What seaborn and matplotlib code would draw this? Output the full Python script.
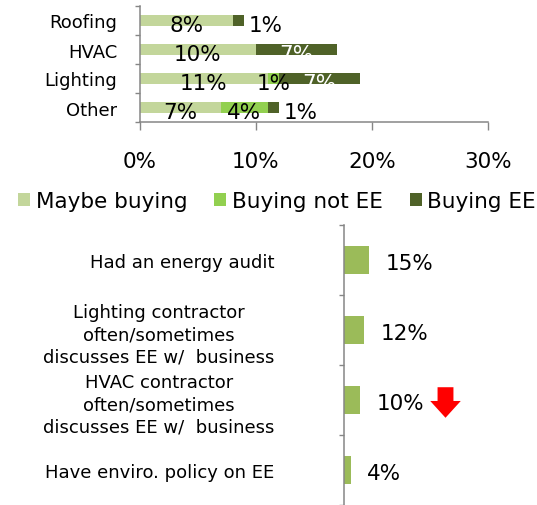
import matplotlib
matplotlib.use("Agg")
import matplotlib.pyplot as plt
import seaborn as sns
import pandas as pd
from matplotlib.patches import Patch
from matplotlib.path import Path
from matplotlib.transforms import offset_copy
from matplotlib.ticker import FixedLocator, PercentFormatter

# top chart: purchase plans by end use (% of businesses)
end_uses = ["Roofing", "HVAC", "Lighting", "Other"]
maybe_buying = [8, 10, 11, 7]
buying_not_ee = [0, 0, 1, 4]
buying_ee = [1, 7, 7, 1]
series_names = ["Maybe buying", "Buying not EE", "Buying EE"]

# bottom chart: EE related behaviours
drivers = ["Had an energy audit",
           "Lighting contractor\noften/sometimes\ndiscusses EE w/  business",
           "HVAC contractor\noften/sometimes\ndiscusses EE w/  business",
           "Have enviro. policy on EE"]
driver_pct = [15, 12, 10, 4]
declined = [False, False, True, False]

LIGHT = "#C3D69B"
MID = "#92D050"
DARK = "#4F6228"
BAR = "#9BBB59"
AXIS = "#868686"

sns.set_style("white")
plt.rcParams["font.family"] = ["DejaVu Sans"]
plt.rcParams["text.color"] = "black"
plt.rcParams["axes.labelcolor"] = "black"
plt.rcParams["xtick.labelcolor"] = "black"
plt.rcParams["ytick.labelcolor"] = "black"

fig = plt.figure(figsize=(5.37, 5.06), dpi=100)
ax1 = fig.add_axes([140 / 537, 1 - 123 / 506, 348 / 537, 116 / 506])
ax2 = fig.add_axes([344 / 537, 0.0, 193 / 537, 1 - 226 / 506])

df = pd.DataFrame({"use": end_uses, "maybe": maybe_buying,
                   "not_ee": buying_not_ee, "ee": buying_ee})
df["c1"] = df["maybe"]
df["c2"] = df["c1"] + df["not_ee"]
df["c3"] = df["c2"] + df["ee"]

# stacked bars: draw cumulative totals from the largest down
for col, color in [("c3", DARK), ("c2", MID), ("c1", LIGHT)]:
    sns.barplot(data=df, x=col, y="use", color=color, width=0.4, saturation=1,
                linewidth=0, errorbar=None, ax=ax1)

lbl = dict(textcoords="offset points", va="center", fontsize=15.5)
for i, row in df.iterrows():
    ax1.annotate(f"{row.maybe}%", xy=(row.c1 / 2, i), xytext=(0, -3), ha="center",
                 color="black", **lbl)
    if row.not_ee > 0:
        ax1.annotate(f"{row.not_ee}%", xy=(row.c1 + row.not_ee / 2, i), xytext=(0, -3),
                     ha="center", color="black", **lbl)
    if row.ee >= 3:
        ax1.annotate(f"{row.ee}%", xy=(row.c2 + row.ee / 2, i), xytext=(0, -3),
                     ha="center", color="white", **lbl)
    else:
        ax1.annotate(f"{row.ee}%", xy=(row.c3, i), xytext=(3, -3), ha="left",
                     color="black", **lbl)

ax1.set_xlim(0, 30)
ax1.set_ylim(3.5, -0.5)
ax1.set_xlabel("")
ax1.set_ylabel("")
ax1.xaxis.set_major_locator(FixedLocator([0, 10, 20, 30]))
ax1.xaxis.set_major_formatter(PercentFormatter(decimals=0))
ax1.yaxis.set_minor_locator(FixedLocator([-0.5, 0.5, 1.5, 2.5, 3.5]))
ax1.tick_params(axis="x", bottom=True, length=5.8, width=1, color=AXIS,
                direction="out", pad=15, labelsize=15.5, labelcolor="black")
ax1.tick_params(axis="y", which="major", left=True, length=0, pad=16.5, labelsize=13,
                labelcolor="black")
ax1.tick_params(axis="y", which="minor", left=True, length=3.6, width=1, color=AXIS)
for s in ["top", "right"]:
    ax1.spines[s].set_visible(False)
for s in ["left", "bottom"]:
    ax1.spines[s].set_color(AXIS)
    ax1.spines[s].set_linewidth(1.1)

handles = [Patch(facecolor=c, linewidth=0, label=n)
           for c, n in zip([LIGHT, MID, DARK], series_names)]
leg = fig.legend(handles=handles, loc="center", bbox_to_anchor=(277 / 537, 1 - 202 / 506),
                 ncol=3, frameon=False, fontsize=15.5, handlelength=0.56, handleheight=0.56,
                 handletextpad=0.25, columnspacing=1.25, borderaxespad=0, borderpad=0)
for t in leg.get_texts():
    t.set_color("black")

# bottom chart
df2 = pd.DataFrame({"driver": drivers, "pct": driver_pct})
sns.barplot(data=df2, x="pct", y="driver", color=BAR, width=0.4, saturation=1,
            linewidth=0, errorbar=None, ax=ax2)
ax2.set_xlim(0, 117)
ax2.set_ylim(3.5, -0.5)
ax2.set_ylabel("")
ax2.xaxis.set_visible(False)
ax2.yaxis.set_minor_locator(FixedLocator([-0.5, 0.5, 1.5, 2.5, 3.5]))
ax2.tick_params(axis="y", which="major", left=True, length=0, pad=50, labelsize=13,
                labelcolor="black")
ax2.tick_params(axis="y", which="minor", left=True, length=3.6, width=1, color=AXIS)
for t in ax2.get_yticklabels():
    t.set_multialignment("center")
    t.set_linespacing(1.3)
for s in ["top", "right", "bottom"]:
    ax2.spines[s].set_visible(False)
ax2.spines["left"].set_color(AXIS)
ax2.spines["left"].set_linewidth(1.1)

for i, v in enumerate(driver_pct):
    ax2.annotate(f"{v}%", xy=(v, i), xytext=(12, -2.5), ha="left", color="black", **lbl)

# red block arrow marking a decline
arrow = Path([(-0.26, 0.5), (0.26, 0.5), (0.26, 0.05), (0.5, 0.05), (0, -0.5),
              (-0.5, 0.05), (-0.26, 0.05), (-0.26, 0.5)],
             [Path.MOVETO] + [Path.LINETO] * 6 + [Path.CLOSEPOLY])
for i, (v, d) in enumerate(zip(driver_pct, declined)):
    if d:
        ax2.plot([v], [i], marker=arrow, ms=22, color="red", mec="none", linestyle="none",
                 transform=offset_copy(ax2.transData, fig=fig, x=61, y=-1.5, units="points"),
                 clip_on=False)

fig.savefig("out.png", dpi=100)
